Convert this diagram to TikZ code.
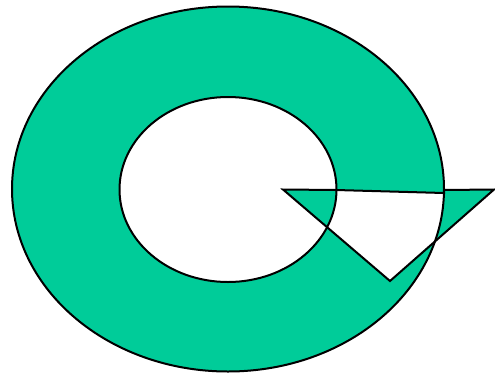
\documentclass[tikz,border=0pt]{standalone}
\definecolor{ringgreen}{HTML}{00CC99}
\begin{document}
\begin{tikzpicture}[x=1pt,y=-1pt,line width=2pt,line join=miter]
\useasboundingbox (0,0) rectangle (495,373);
\path[fill=ringgreen,even odd rule]
  (228,189) ellipse [x radius=216, y radius=182.5]
  (228,189.5) ellipse [x radius=108.5, y radius=92.5]
  (283,189.5) -- (336,190) -- (444,193) -- (444,190) -- (494,189.5) -- (390,281) -- cycle;
\draw (228,189) ellipse [x radius=216, y radius=182.5];
\draw (228,189.5) ellipse [x radius=108.5, y radius=92.5];
\draw (283,189.5) -- (336,190) -- (444,193) -- (444,190) -- (494,189.5) -- (390,281) -- cycle;
\end{tikzpicture}
\end{document}
